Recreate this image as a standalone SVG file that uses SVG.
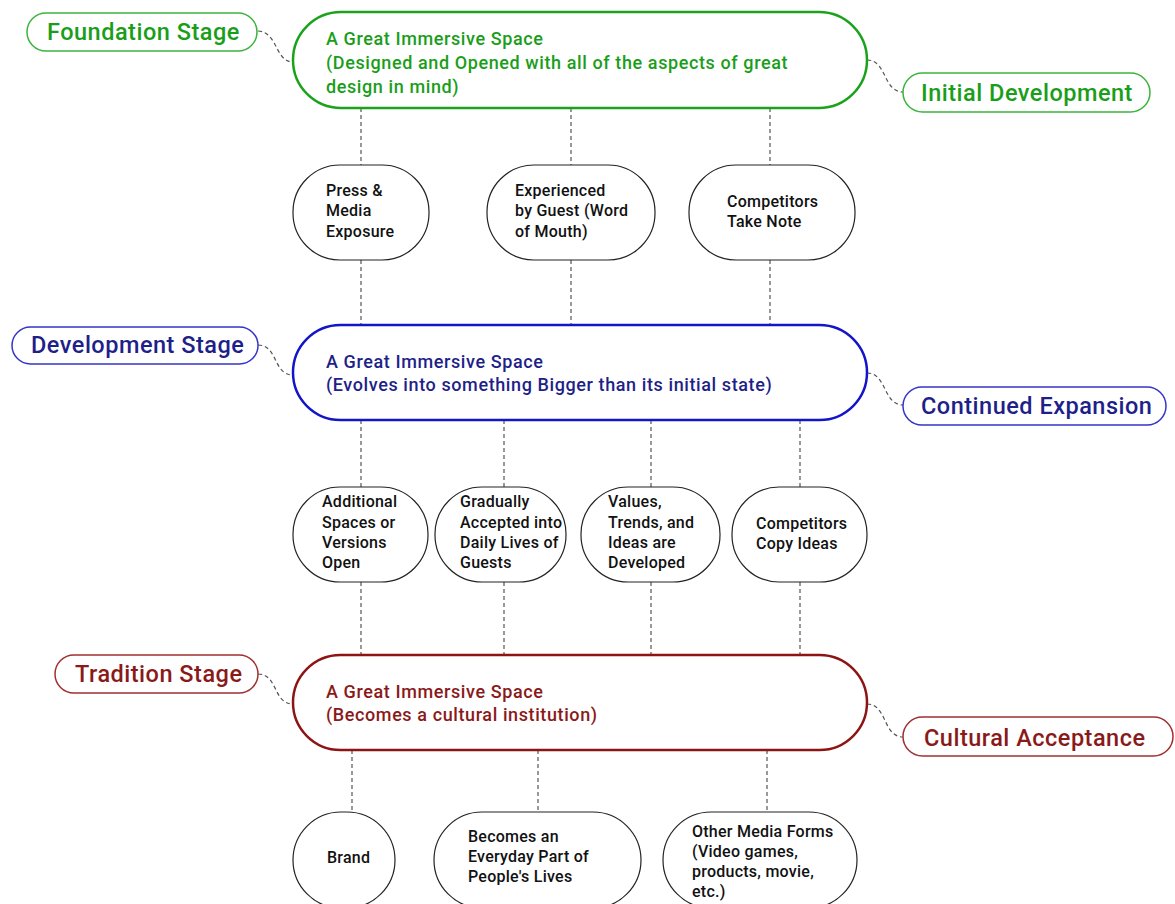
<svg xmlns="http://www.w3.org/2000/svg" width="1175" height="904" viewBox="0 0 1175 904">
<style>
text{font-family:Roboto,"Liberation Sans",sans-serif;font-weight:500}
.main{fill:#fff;stroke-width:2.5}
.lab{fill:#fff;stroke-width:1.5}
.sub{fill:#fff;stroke:#222;stroke-width:1.2}
.st{font-size:18px;letter-spacing:0.6px}
.lt{font-size:23.5px;letter-spacing:0.5px}
.nt{font-size:16px;letter-spacing:0.25px;fill:#111}
.g{stroke:#1aa31a}.gt{fill:#1a9e1a}.gl{stroke:#3cb43c}
.b{stroke:#1414c8}.bt{fill:#1f1f8a}.bl{stroke:#3535c8}
.r{stroke:#8e1414}.rt{fill:#8a1a1a}.rl{stroke:#a03030}
.c{fill:none;stroke:#555;stroke-width:1.2;stroke-dasharray:4 3}
</style>
<rect width="1175" height="904" fill="#fff"/>
<g id="connectors">
<path class="c" d="M258,31 C278,32 275,62 293,62"/>
<path class="c" d="M867,60 C887,60 883,92 903,92"/>
<path class="c" d="M258,345 C278,345 273,375 293,375"/>
<path class="c" d="M867,373 C887,373 883,405 903,405"/>
<path class="c" d="M258,674 C278,674 273,704 293,704"/>
<path class="c" d="M867,704 C887,704 883,737 903,737"/>
<path class="c" d="M361,108V165M361,260V325M571,108V165M571,260V325M770,108V165M770,260V325"/>
<path class="c" d="M361,420V487M361,582V655M504,420V487M504,582V655M651,420V487M651,582V655M800,420V487M800,582V655"/>
<path class="c" d="M352,750V812M538,750V812M767,750V812"/>
</g>
<g id="foundation-stage"><rect class="lab gl" x="27" y="13" width="230" height="38" rx="19"/><text class="lt gt" x="47" y="40">Foundation Stage</text></g>
<g id="initial-development"><rect class="lab gl" x="903" y="73" width="247" height="39" rx="19.5"/><text class="lt gt" x="921" y="101">Initial Development</text></g>
<g id="main-1"><rect class="main g" x="293" y="12" width="574" height="96" rx="48"/>
<text class="st gt" x="326" y="45">A Great Immersive Space</text>
<text class="st gt" x="326" y="69">(Designed and Opened with all of the aspects of great</text>
<text class="st gt" x="326" y="93">design in mind)</text></g>
<g id="press"><rect class="sub" x="293" y="165" width="136" height="95" rx="47"/><text class="nt" x="326" y="196">Press &amp;</text><text class="nt" x="326" y="216">Media</text><text class="nt" x="326" y="237">Exposure</text></g>
<g id="experienced"><rect class="sub" x="487" y="165" width="168" height="95" rx="47"/><text class="nt" x="515" y="196">Experienced</text><text class="nt" x="515" y="216">by Guest (Word</text><text class="nt" x="515" y="237">of Mouth)</text></g>
<g id="competitors-note"><rect class="sub" x="689" y="165" width="166" height="95" rx="47"/><text class="nt" x="727" y="207">Competitors</text><text class="nt" x="727" y="227">Take Note</text></g>
<g id="development-stage"><rect class="lab bl" x="12" y="327" width="246" height="37" rx="18.5"/><text class="lt bt" x="31" y="353">Development Stage</text></g>
<g id="continued-expansion"><rect class="lab bl" x="903" y="387" width="263" height="38" rx="19"/><text class="lt bt" x="921" y="414">Continued Expansion</text></g>
<g id="main-2"><rect class="main b" x="293" y="325" width="574" height="95" rx="47.5"/>
<text class="st bt" x="326" y="368">A Great Immersive Space</text>
<text class="st bt" x="326" y="391">(Evolves into something Bigger than its initial state)</text></g>
<g id="additional"><rect class="sub" x="293" y="487" width="135" height="95" rx="47"/><text class="nt" x="322" y="507">Additional</text><text class="nt" x="322" y="528">Spaces or</text><text class="nt" x="322" y="548">Versions</text><text class="nt" x="322" y="568">Open</text></g>
<g id="gradually"><rect class="sub" x="435" y="487" width="131" height="95" rx="47"/><text class="nt" x="460" y="507">Gradually</text><text class="nt" x="460" y="528">Accepted into</text><text class="nt" x="460" y="548">Daily Lives of</text><text class="nt" x="460" y="568">Guests</text></g>
<g id="values"><rect class="sub" x="581" y="487" width="139" height="95" rx="47"/><text class="nt" x="608" y="507">Values,</text><text class="nt" x="608" y="528">Trends, and</text><text class="nt" x="608" y="548">Ideas are</text><text class="nt" x="608" y="568">Developed</text></g>
<g id="competitors-copy"><rect class="sub" x="732" y="487" width="135" height="95" rx="47"/><text class="nt" x="756" y="529">Competitors</text><text class="nt" x="756" y="549">Copy Ideas</text></g>
<g id="tradition-stage"><rect class="lab rl" x="55" y="655" width="203" height="38" rx="19"/><text class="lt rt" x="75" y="682">Tradition Stage</text></g>
<g id="cultural-acceptance"><rect class="lab rl" x="903" y="717" width="270" height="39" rx="19.5"/><text class="lt rt" x="924" y="746">Cultural Acceptance</text></g>
<g id="main-3"><rect class="main r" x="293" y="655" width="574" height="95" rx="47.5"/>
<text class="st rt" x="326" y="698">A Great Immersive Space</text>
<text class="st rt" x="326" y="721">(Becomes a cultural institution)</text></g>
<g id="brand"><rect class="sub" x="293" y="812" width="102" height="96" rx="48"/><text class="nt" x="327" y="863">Brand</text></g>
<g id="everyday"><rect class="sub" x="434" y="812" width="207" height="96" rx="48"/><text class="nt" x="468" y="842">Becomes an</text><text class="nt" x="468" y="862">Everyday Part of</text><text class="nt" x="468" y="882">People's Lives</text></g>
<g id="other-media"><rect class="sub" x="663" y="812" width="194" height="96" rx="48"/><text class="nt" x="692" y="837">Other Media Forms</text><text class="nt" x="692" y="857">(Video games,</text><text class="nt" x="692" y="877">products, movie,</text><text class="nt" x="692" y="897">etc.)</text></g>
</svg>
